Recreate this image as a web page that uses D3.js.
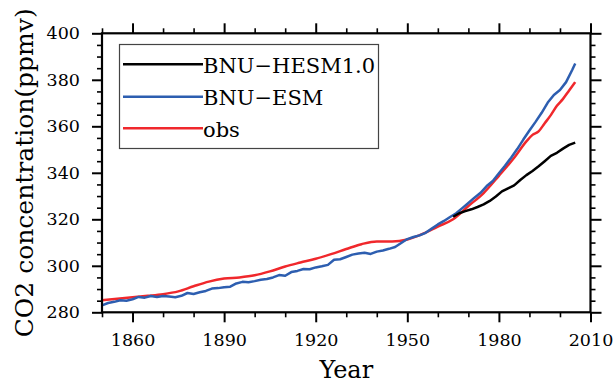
<!DOCTYPE html>
<html>
<head>
<meta charset="utf-8">
<script src="https://cdn.jsdelivr.net/npm/d3@7"></script>
<style>
  html, body { margin: 0; padding: 0; background: #fff; }
  svg { display: block; }
</style>
</head>
<body>
<svg id="chart" width="616" height="385"></svg>
<script>
// ---------------- data ----------------
const seriesNames = ["BNU−HESM1.0", "BNU−ESM", "obs"];

const hesmYears = [1965, 1967, 1969, 1971, 1973, 1975, 1977, 1979, 1981, 1983, 1985,
  1987, 1989, 1991, 1993, 1995, 1997, 1999, 2001, 2003, 2005];
const hesmValues = [321.1, 322.6, 323.5, 324.3, 325.3, 326.4, 327.9, 329.8, 332.0, 333.3, 334.6,
  336.9, 339.0, 340.8, 342.8, 345.0, 347.3, 348.6, 350.4, 352.0, 353.0];

const esmYears = [1850, 1852, 1854, 1856, 1858, 1860, 1862, 1864, 1866, 1868, 1870, 1872, 1874,
  1876, 1878, 1880, 1882, 1884, 1886, 1888, 1890, 1892, 1894, 1896, 1898, 1900, 1902, 1904,
  1906, 1908, 1910, 1912, 1914, 1916, 1918, 1920, 1922, 1924, 1926, 1928, 1930, 1932, 1934,
  1936, 1938, 1940, 1942, 1944, 1946, 1948, 1950, 1952, 1954, 1956, 1958, 1960, 1962, 1964,
  1966, 1968, 1970, 1972, 1974, 1976, 1978, 1980, 1982, 1984, 1986, 1988, 1990, 1992, 1994,
  1996, 1998, 2000, 2002, 2004, 2005];
const esmValues = [283.0, 284.0, 284.5, 285.2, 285.0, 285.6, 286.6, 286.3, 287.0, 286.6, 287.0, 286.8, 286.5,
  287.1, 288.3, 287.9, 288.6, 289.2, 290.2, 290.4, 290.8, 291.0, 292.4, 293.1, 292.9, 293.4, 294.0, 294.3,
  295.0, 296.0, 295.7, 297.3, 297.8, 298.6, 298.5, 299.3, 299.8, 300.4, 302.6, 302.8, 303.8, 304.8, 305.3,
  305.6, 305.1, 306.1, 306.6, 307.3, 308.1, 309.8, 311.5, 312.4, 313.1, 314.2, 316.0, 317.8, 319.3, 321.0,
  322.6, 324.8, 327.0, 329.3, 331.4, 334.3, 336.5, 339.8, 343.0, 346.5, 350.2, 354.3, 358.2, 361.9, 365.8,
  370.2, 373.5, 375.6, 379.0, 384.2, 387.0];

const obsYears = [1850, 1855, 1860, 1865, 1870, 1875, 1880, 1885, 1890, 1895, 1900, 1905, 1910,
  1915, 1920, 1925, 1930, 1935, 1940, 1945, 1950, 1955, 1960, 1965, 1970, 1975, 1980, 1985,
  1989, 1991, 1993, 1995, 1997, 1999, 2001, 2003, 2005];
const obsValues = [285.2, 285.8, 286.5, 287.1, 287.8, 289.0, 291.2, 293.2, 294.5, 295.0, 295.9, 297.6, 299.7,
  301.4, 303.0, 305.0, 307.2, 309.3, 310.5, 310.4, 311.3, 313.7, 316.9, 320.0, 325.7, 331.3, 338.7, 346.5,
  353.5, 356.3, 357.8, 361.3, 364.8, 368.8, 371.8, 375.4, 379.0];

const xMajorTicks = [1860, 1890, 1920, 1950, 1980, 2010];
const xMinorTicks = [1850, 1870, 1880, 1900, 1910, 1930, 1940, 1960, 1970, 1990, 2000];
const yMajorTicks = [280, 300, 320, 340, 360, 380, 400];
const yMinorTicks = [285, 290, 295, 305, 310, 315, 325, 330, 335, 345, 350, 355, 365, 370, 375, 385, 390, 395];

const xTitle = "Year";
const yTitle = "CO2 concentration(ppmv)";

// ---------------- drawing ----------------
const colors = ["#000000", "#2d5eb0", "#f0282c"];
const svg = d3.select("#chart");
const L = 102, R = 590.5, T = 33.3, B = 312.3;
const x = d3.scaleLinear().domain([1850, 2010]).range([L, R]);
const y = d3.scaleLinear().domain([280, 400]).range([B, T]);
const serif = "'DejaVu Serif', serif";

function styleAxis(g, width) {
  g.select(".domain").remove();
  g.selectAll(".tick line").attr("stroke", "#000").attr("stroke-width", width);
  g.selectAll(".tick text").attr("font-family", serif).attr("font-size", "17.5px").attr("fill", "#000");
}

// bottom
svg.append("g").attr("transform", `translate(0,${B})`)
  .call(d3.axisBottom(x).tickValues(xMinorTicks).tickSize(5).tickFormat(""))
  .call(g => styleAxis(g, 1.6));
svg.append("g").attr("transform", `translate(0,${B})`)
  .call(d3.axisBottom(x).tickValues(xMajorTicks).tickSize(10).tickPadding(11).tickFormat(d3.format("d")))
  .call(g => styleAxis(g, 2));
// top
svg.append("g").attr("transform", `translate(0,${T})`)
  .call(d3.axisTop(x).tickValues(xMinorTicks).tickSize(5).tickFormat(""))
  .call(g => styleAxis(g, 1.6));
svg.append("g").attr("transform", `translate(0,${T})`)
  .call(d3.axisTop(x).tickValues(xMajorTicks).tickSize(10).tickFormat(""))
  .call(g => styleAxis(g, 2));
// left
svg.append("g").attr("transform", `translate(${L},0)`)
  .call(d3.axisLeft(y).tickValues(yMinorTicks).tickSize(5).tickFormat(""))
  .call(g => styleAxis(g, 1.6));
svg.append("g").attr("transform", `translate(${L},0)`)
  .call(d3.axisLeft(y).tickValues(yMajorTicks).tickSize(10).tickPadding(12).tickFormat(d3.format("d")))
  .call(g => styleAxis(g, 2));
// right
svg.append("g").attr("transform", `translate(${R},0)`)
  .call(d3.axisRight(y).tickValues(yMinorTicks).tickSize(5).tickFormat(""))
  .call(g => styleAxis(g, 1.6));
svg.append("g").attr("transform", `translate(${R},0)`)
  .call(d3.axisRight(y).tickValues(yMajorTicks).tickSize(11).tickFormat(""))
  .call(g => styleAxis(g, 2));

// data lines
const line = d3.line().x(d => x(d[0])).y(d => y(d[1]));
const obsLine = d3.line().x(d => x(d[0])).y(d => y(d[1])).curve(d3.curveMonotoneX);
const zip = (a, b) => a.map((v, i) => [v, b[i]]);

svg.append("path").datum(zip(obsYears, obsValues))
  .attr("d", obsLine).attr("fill", "none").attr("stroke", colors[2]).attr("stroke-width", 2.5)
  .attr("stroke-linejoin", "round");
svg.append("path").datum(zip(esmYears, esmValues))
  .attr("d", line).attr("fill", "none").attr("stroke", colors[1]).attr("stroke-width", 2.5)
  .attr("stroke-linejoin", "round");
svg.append("path").datum(zip(hesmYears, hesmValues))
  .attr("d", line).attr("fill", "none").attr("stroke", colors[0]).attr("stroke-width", 2.5)
  .attr("stroke-linejoin", "round");

// frame
svg.append("rect").attr("x", L).attr("y", T).attr("width", R - L).attr("height", B - T)
  .attr("fill", "none").attr("stroke", "#000").attr("stroke-width", 2.2);

// legend
const leg = svg.append("g");
leg.append("rect").attr("x", 119.5).attr("y", 44.5).attr("width", 259).attr("height", 104)
  .attr("fill", "#fff").attr("stroke", "#444").attr("stroke-width", 1.2);
const rowY = [64.3, 96.7, 128.3];
seriesNames.forEach((name, i) => {
  leg.append("line").attr("x1", 123).attr("x2", 203).attr("y1", rowY[i]).attr("y2", rowY[i])
    .attr("stroke", colors[i]).attr("stroke-width", 2.5);
  leg.append("text").attr("x", 203).attr("y", rowY[i] + 8.5)
    .attr("font-family", serif).attr("font-size", "21px").attr("fill", "#000").text(name);
});

// titles
svg.append("text").attr("x", (L + R) / 2).attr("y", 378).attr("text-anchor", "middle")
  .attr("font-family", serif).attr("font-size", "24px").attr("fill", "#000").text(xTitle);
svg.append("text").attr("transform", `translate(33,${(T + B) / 2}) rotate(-90)`)
  .attr("text-anchor", "middle")
  .attr("font-family", serif).attr("font-size", "25px").attr("fill", "#000").text(yTitle);
</script>
</body>
</html>
